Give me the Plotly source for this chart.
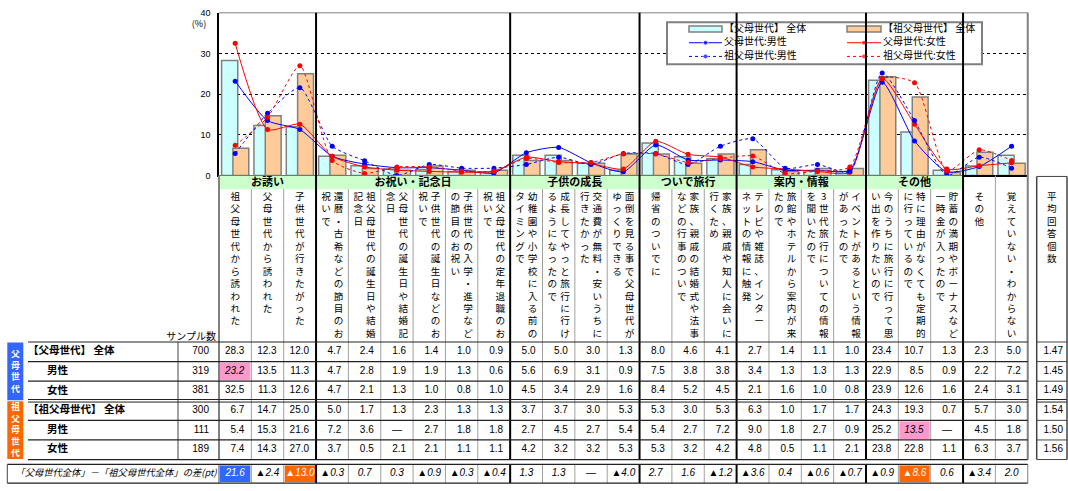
import plotly.graph_objects as go

W, H = 1068, 491
FONT_JP = "Noto Sans CJK JP"
FONT_NUM = "Liberation Sans, Arial, sans-serif"

# ---------------- data ----------------
label_cols = [
    ["祖父母世代から誘われた"],
    ["父母世代から誘われた"],
    ["子供世代が行きたがった"],
    ["還暦・古希などの節目のお", "祝いで"],
    ["祖父母世代の誕生日や結婚", "記念日"],
    ["父母世代の誕生日や結婚記", "念日"],
    ["子供世代の誕生日などのお", "祝いで"],
    ["子供世代の入学・進学など", "の節目のお祝い"],
    ["祖父母世代の定年退職のお", "祝いで"],
    ["幼稚園や小学校に入る前の", "タイミングで"],
    ["成長してやっと旅行に行け", "るようになったので"],
    ["交通費が無料・安いうちに", "行きたかった"],
    ["面倒を見る事で父母世代が", "ゆっくりできる"],
    ["帰省のついでに"],
    ["家族、親戚の結婚式や法事", "などの行事のついで"],
    ["家族、親戚や知人に会いに", "行くため"],
    ["テレビや雑誌、インター", "ネットの情報に触発"],
    ["旅館やホテルから案内が来", "たので"],
    ["3世代旅行についての情報", "を聞いたので"],
    ["イベントがあるという情報", "があったので"],
    ["今のうちに旅行に行って思", "い出を作りたいので"],
    ["特に理由がなくても定期的", "に行っているので"],
    ["貯蓄の満期やボーナスなど", "一時金が入ったので"],
    ["その他"],
    ["覚えていない・わからない"],
]
categories = ["".join(c) for c in label_cols]
avg_label = "平均回答個数"

groups = [("お誘い", 0, 3), ("お祝い・記念日", 3, 9), ("子供の成長", 9, 13),
          ("ついで旅行", 13, 16), ("案内・情報", 16, 20), ("その他", 20, 23)]

row_names = ["【父母世代】 全体", "男性", "女性", "【祖父母世代】 全体", "男性", "女性"]
sample_n = [700, 319, 381, 300, 111, 189]

p_all = [28.3, 12.3, 12.0, 4.7, 2.4, 1.6, 1.4, 1.0, 0.9, 5.0, 5.0, 3.0, 1.3,
         8.0, 4.6, 4.1, 2.7, 1.4, 1.1, 1.0, 23.4, 10.7, 1.3, 2.3, 5.0]
p_male = [23.2, 13.5, 11.3, 4.7, 2.8, 1.9, 1.9, 1.3, 0.6, 5.6, 6.9, 3.1, 0.9,
          7.5, 3.8, 3.8, 3.4, 1.3, 1.3, 1.3, 22.9, 8.5, 0.9, 2.2, 7.2]
p_female = [32.5, 11.3, 12.6, 4.7, 2.1, 1.3, 1.0, 0.8, 1.0, 4.5, 3.4, 2.9, 1.6,
            8.4, 5.2, 4.5, 2.1, 1.6, 1.0, 0.8, 23.9, 12.6, 1.6, 2.4, 3.1]
g_all = [6.7, 14.7, 25.0, 5.0, 1.7, 1.3, 2.3, 1.3, 1.3, 3.7, 3.7, 3.0, 5.3,
         5.3, 3.0, 5.3, 6.3, 1.0, 1.7, 1.7, 24.3, 19.3, 0.7, 5.7, 3.0]
g_male = [5.4, 15.3, 21.6, 7.2, 3.6, None, 2.7, 1.8, 1.8, 2.7, 4.5, 2.7, 5.4,
          5.4, 2.7, 7.2, 9.0, 1.8, 2.7, 0.9, 25.2, 13.5, None, 4.5, 1.8]
g_female = [7.4, 14.3, 27.0, 3.7, 0.5, 2.1, 2.1, 1.1, 1.1, 4.2, 3.2, 3.2, 5.3,
            5.3, 3.2, 4.2, 4.8, 0.5, 1.1, 2.1, 23.8, 22.8, 1.1, 6.3, 3.7]
avg_answers = [1.47, 1.45, 1.49, 1.54, 1.50, 1.56]

y_ticks = [0, 10, 20, 30, 40]
legend_names = ["【父母世代】 全体", "【祖父母世代】 全体", "父母世代:男性",
                "父母世代:女性", "祖父母世代:男性", "祖父母世代:女性"]
diff_label = "「父母世代全体」－「祖父母世代全体」の差(pt)"
block_labels = ["父母世代", "祖父母世代"]

# ---------------- colours ----------------
C_CYAN, C_ORANGE, C_EDGE = "#CCFFFF", "#FFCC99", "#808080"
C_BLUE, C_RED = "#0000FF", "#FF0000"
C_BAND = "#CCFFCC"
C_PINK = "#FF99CC"
C_BLK_BLUE, C_BLK_ORANGE = "#3366FF", "#FF6600"

# ---------------- geometry (pixels) ----------------
N = len(categories)
X0, COLW = 219.0, 32.35
def colx(k):
    return X0 + k * COLW
XR = colx(N)
PLOT_TOP, PLOT_BOT = 8.0, 174.0
BAND_BOT = 188.0
HDR_BOT = 344.0
RH = 20.0
TAB_BOT = HDR_BOT + 6 * RH
DIFF_TOP, DIFF_BOT = 469.0, 488.0
LAB_L, SAMP_L = 28.0, 178.0
AVG_L, AVG_R = 1036.7, 1067.0
VT_SIZE = 9.6              # vertical label font size (line pitch = 1.3 em)
VT_TOP = 191.4             # anchor of first line of vertical labels
group_bounds = sorted({g[1] for g in groups[1:]} | {groups[-1][2]})

fig = go.Figure()

# ---------------- chart ----------------
fig.add_trace(go.Bar(x=categories, y=p_all, offset=-0.42, width=0.5,
                     marker=dict(color=C_CYAN, line=dict(color=C_EDGE, width=1.5)),
                     name=legend_names[0]))
fig.add_trace(go.Bar(x=categories, y=g_all, offset=-0.07, width=0.49,
                     marker=dict(color=C_ORANGE, line=dict(color=C_EDGE, width=1.5)),
                     name=legend_names[1]))
line_series = [(p_male, C_BLUE, "solid", legend_names[2]),
               (p_female, C_RED, "solid", legend_names[3]),
               (g_male, C_BLUE, "dot", legend_names[4]),
               (g_female, C_RED, "dot", legend_names[5])]
for vals, col, dash, nm in line_series:
    fig.add_trace(go.Scatter(x=categories, y=[v if v is not None else 0 for v in vals],
                             mode="lines+markers", name=nm,
                             line=dict(color=col, width=1.0, dash=dash, shape="spline", smoothing=0.6),
                             marker=dict(color=col, size=5)))

# ---------------- helpers for table drawing ----------------
shapes = []
def hline(x0, x1, y, color="#222", width=1.2, layer="above", dash=None):
    shapes.append(dict(type="line", xref="x2", yref="y2", x0=x0, x1=x1, y0=y, y1=y,
                       line=dict(color=color, width=width, dash=dash), layer=layer))
def vline(x, y0, y1, color="#999", width=1.0, layer="above"):
    shapes.append(dict(type="line", xref="x2", yref="y2", x0=x, x1=x, y0=y0, y1=y1,
                       line=dict(color=color, width=width), layer=layer))
def rect(x0, y0, x1, y1, fill, lc=None, lw=0, layer="below"):
    shapes.append(dict(type="rect", xref="x2", yref="y2", x0=x0, x1=x1, y0=y0, y1=y1,
                       fillcolor=fill, line=dict(color=lc or fill, width=lw), layer=layer))

texts = {}
def add_text(x, y, s, size=10, color="#000", family=FONT_NUM, weight="normal",
             style="normal", pos="middle center"):
    key = (size, color, family, weight, style, pos)
    g = texts.setdefault(key, ([], [], []))
    g[0].append(x); g[1].append(y); g[2].append(s)

def fmt(v):
    return "—" if v is None or abs(v) < 0.05 else f"{v:.1f}"

def vertical(s):
    return "<br>".join(list(s))

# ---------------- legend (manual) ----------------
LG_X0, LG_X1, LG_Y0, LG_Y1 = 667, 982, 17.5, 60.5
lg_rows = [24.5, 38.5, 52.5]
lg_cols = [(689, 722), (847, 881)]
LG_FONT = 10
rect(LG_X0, LG_Y0, LG_X1, LG_Y1, "white", C_EDGE, 2)
for j, fill in enumerate([C_CYAN, C_ORANGE]):
    sx0, sx1 = lg_cols[j]
    rect(sx0, lg_rows[0] - 3, sx1, lg_rows[0] + 3, fill, C_EDGE, 1.5)
    add_text(sx1 + 2, lg_rows[0], legend_names[j], size=LG_FONT, family=FONT_JP, pos="middle right")
for idx, (vals, col, dash, nm) in enumerate(line_series):
    r = 1 + idx // 2
    sx0, sx1 = lg_cols[idx % 2]
    ym = lg_rows[r]
    fig.add_trace(go.Scatter(x=[sx0, (sx0 + sx1) / 2, sx1], y=[ym, ym, ym], xaxis="x2", yaxis="y2",
                             mode="lines+markers", line=dict(color=col, width=1.0, dash=dash),
                             marker=dict(color=col, size=[0, 5, 0]), hoverinfo="skip", showlegend=False))
    add_text(sx1 + 2, ym, nm, size=LG_FONT, family=FONT_JP, pos="middle right")

# ---------------- "(%)" ----------------
add_text(199, 20.5, "(%)", size=9, family=FONT_JP)

# ---------------- header band ----------------
for name, a, b in groups:
    rect(colx(a), PLOT_BOT, colx(b), BAND_BOT, C_BAND)
    add_text((colx(a) + colx(b)) / 2, (PLOT_BOT + BAND_BOT) / 2 + 0.5, name, size=11,
             family=FONT_JP, weight="bold")

# ---------------- vertical category labels ----------------
for i, cols in enumerate(label_cols):
    cx = colx(i) + COLW / 2
    xs = [cx] if len(cols) == 1 else [cx + 6.3, cx - 6.3]
    for xc, s in zip(xs, cols):
        add_text(xc, VT_TOP, vertical(s), size=VT_SIZE, family=FONT_JP, pos="bottom center")
add_text((AVG_L + AVG_R) / 2, VT_TOP, vertical(avg_label), size=VT_SIZE, family=FONT_JP,
         pos="bottom center")

# ---------------- table body ----------------
rows = [p_all, p_male, p_female, g_all, g_male, g_female]
overall_of = [0, 0, 0, 3, 3, 3]
add_text(216, HDR_BOT - 5, "サンプル数", size=10, family=FONT_JP, pos="middle left")
for r, vals in enumerate(rows):
    yc = HDR_BOT + (r + 0.5) * RH
    bold_row = r in (0, 3)
    add_text(LAB_L if bold_row else 47, yc, row_names[r], size=10.5, family=FONT_JP,
             weight="bold", pos="middle right")
    add_text(SAMP_L + 31, yc, str(sample_n[r]), size=10, pos="middle left")
    add_text(AVG_R - 4, yc, f"{avg_answers[r]:.2f}", size=10, pos="middle left")
    base = rows[overall_of[r]]
    for i, v in enumerate(vals):
        s = fmt(v)
        hl = (r not in (0, 3)) and v is not None and base[i] is not None and v - base[i] <= -5
        if hl:
            rect(colx(i) + 1, HDR_BOT + r * RH + 1, colx(i + 1) - 1, HDR_BOT + (r + 1) * RH - 1, C_PINK)
        if s == "—":
            add_text(colx(i) + COLW / 2, yc, s, size=10)
        else:
            add_text(colx(i + 1) - 7, yc, s, size=10, style="italic" if hl else "normal",
                     pos="middle left")

# left coloured blocks
for k, (lab, col) in enumerate(zip(block_labels, [C_BLK_BLUE, C_BLK_ORANGE])):
    y0 = HDR_BOT + k * 3 * RH
    y1 = y0 + 3 * RH
    rect(7.3, y0 + 0.5, 23.3, y1 - 0.5, col)
    add_text(15.3, (y0 + y1) / 2 + 1, vertical(lab), size=8.8, color="white", family=FONT_JP,
             weight="bold")

# diff row
diffs = [round(p - g, 1) for p, g in zip(p_all, g_all)]
yd = (DIFF_TOP + DIFF_BOT) / 2
add_text(116, yd, diff_label, size=9.3, family=FONT_JP, style="italic")
for i, d in enumerate(diffs):
    if abs(d) < 0.05:
        s = "—"
    elif d < 0:
        s = "▲" + f"{-d:.1f}"
    else:
        s = f"{d:.1f}"
    tc = "#000"
    if d >= 5:
        rect(colx(i) + 1, DIFF_TOP + 1, colx(i + 1) - 1, DIFF_BOT - 1, C_BLK_BLUE)
        tc = "white"
    elif d <= -5:
        rect(colx(i) + 1, DIFF_TOP + 1, colx(i + 1) - 1, DIFF_BOT - 1, C_BLK_ORANGE)
        tc = "white"
    add_text(colx(i) + COLW / 2, yd, s, size=10, color=tc, style="italic")

# ---------------- grid lines ----------------
hline(X0, XR, PLOT_TOP, color=C_EDGE, width=1)
for k in range(N + 1):
    if k in group_bounds:
        vline(colx(k), PLOT_TOP, TAB_BOT, color="#000", width=2)
        vline(colx(k), DIFF_TOP, DIFF_BOT, color="#000", width=2)
    elif k == N:
        vline(colx(k), PLOT_TOP, TAB_BOT, color=C_EDGE, width=2)
        vline(colx(k), DIFF_TOP, DIFF_BOT, color=C_EDGE, width=1)
    elif k == 0:
        vline(colx(k), PLOT_BOT, TAB_BOT, color=C_EDGE, width=2)
        vline(colx(k), DIFF_TOP, DIFF_BOT, color="#444", width=1)
    else:
        ytop = PLOT_BOT if k > group_bounds[-1] else BAND_BOT
        vline(colx(k), ytop, TAB_BOT, color="#A0A0A0", width=1)
        vline(colx(k), DIFF_TOP, DIFF_BOT, color="#A0A0A0", width=1)
vline(SAMP_L, HDR_BOT, TAB_BOT, color="#444", width=1)
for r in range(7):
    y = HDR_BOT + r * RH
    if r == 3:
        hline(LAB_L, XR, y - 1.3, width=1)
        hline(LAB_L, XR, y + 1.3, width=1)
        hline(AVG_L, AVG_R, y - 1.3, width=1)
        hline(AVG_L, AVG_R, y + 1.3, width=1)
    else:
        hline(LAB_L, XR, y)
        hline(AVG_L, AVG_R, y, color="#444", width=1)
hline(AVG_L, AVG_R, PLOT_BOT + 1, color="#444", width=1)
vline(AVG_L, PLOT_BOT + 1, TAB_BOT, color="#444", width=1.5)
vline(AVG_R, PLOT_BOT + 1, TAB_BOT, color="#444", width=1.5)
hline(7.3, XR, DIFF_TOP, width=1.2)
hline(7.3, XR, DIFF_BOT, width=1.2)
vline(7.3, DIFF_TOP, DIFF_BOT, color="#444", width=1)

# ---------------- text traces ----------------
for (size, color, family, weight, style, pos), (xs, ys, ss) in texts.items():
    fig.add_trace(go.Scatter(x=xs, y=ys, text=ss, mode="text", textposition=pos,
                             textfont=dict(size=size, color=color, family=family,
                                           weight=weight, style=style),
                             xaxis="x2", yaxis="y2", hoverinfo="skip", showlegend=False,
                             cliponaxis=False))

fig.update_layout(
    width=W, height=H, autosize=False, margin=dict(l=0, r=0, t=0, b=0),
    paper_bgcolor="white", plot_bgcolor="rgba(0,0,0,0)", barmode="overlay", showlegend=False,
    xaxis=dict(domain=[X0 / W, XR / W], range=[-0.5, N - 0.5], type="category",
               showticklabels=False, showgrid=False, showline=True, linecolor="#000",
               linewidth=1.5, ticks="", zeroline=False, anchor="y", fixedrange=True),
    yaxis=dict(domain=[1 - PLOT_BOT / H, 1 - PLOT_TOP / H], range=[0, 40], tickvals=y_ticks,
               showgrid=True, gridcolor="#000", griddash="dot", gridwidth=1,
               showline=True, linecolor="#000", linewidth=1.5, ticks="",
               tickfont=dict(size=9, family=FONT_NUM, color="#000"), ticklabelstandoff=5,
               zeroline=False, anchor="x", fixedrange=True),
    xaxis2=dict(domain=[0, 1], range=[0, W], visible=False, anchor="y2", fixedrange=True),
    yaxis2=dict(domain=[0, 1], range=[H, 0], visible=False, anchor="x2", fixedrange=True),
    shapes=shapes,
)

# the page's default 8px body margin would shift the 1068x491 figure; remove it
fig.write_html("out.html", config={"displayModeBar": False},
               post_script="document.body.style.margin='0px';")
